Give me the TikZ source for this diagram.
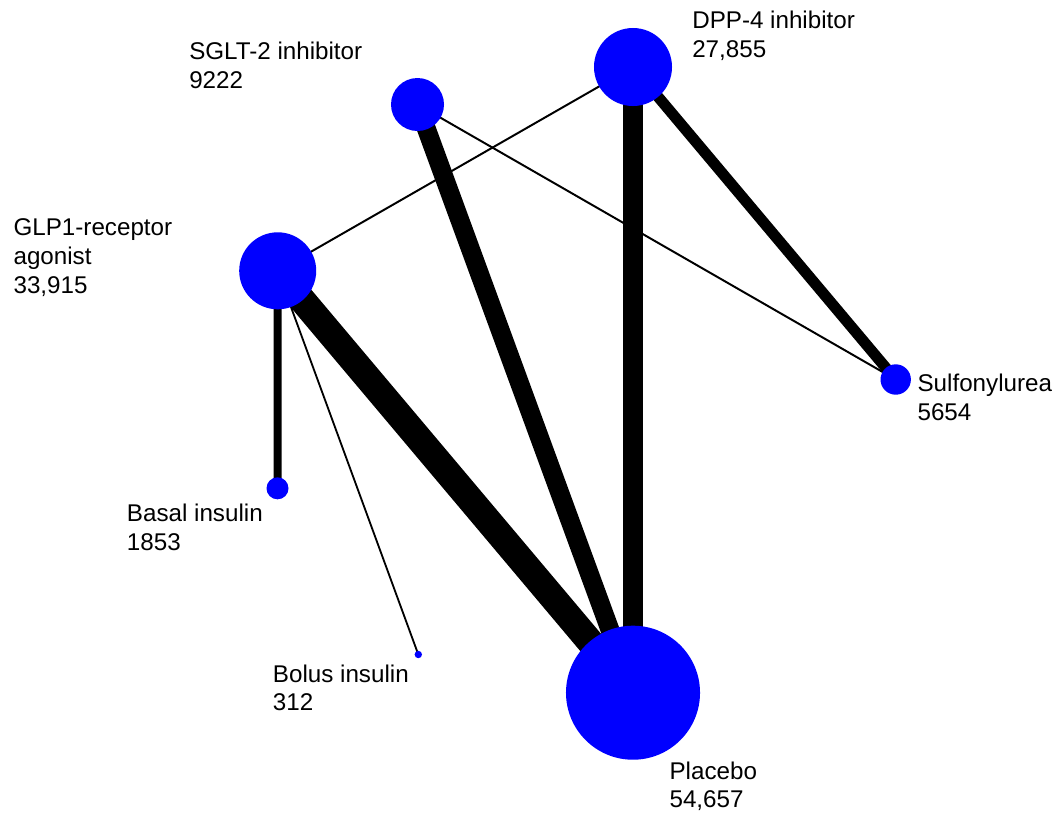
\documentclass[tikz,border=0pt]{standalone}
\usepackage{fontspec}
\setmainfont{Liberation Sans}
\usetikzlibrary{backgrounds}
\tikzset{
	trt/.style={circle, fill=blue, draw=none, inner sep=0pt, minimum size=#1},
	lab/.style={anchor=base west, align=left, inner sep=0pt,
			font=\fontsize{17.2}{20.4}\selectfont},
	link/.style={draw=black, line width=#1, line cap=butt}
}

\begin{document}
\begin{tikzpicture}[x=0.025cm, y=-0.025cm]
        \useasboundingbox (0, 0) rectangle (1057, 818);
        % treatments, area ~ number of patients
        \node[trt=1.95cm] (dpp) at (633, 67) {};
        \node[trt=1.325cm] (sglt) at (417.5, 104.5) {};
        \node[trt=1.925cm] (glp) at (277.7, 270.8) {};
        \node[trt=0.76cm] (sulf) at (895.7, 379.5) {};
        \node[trt=0.55cm] (basal) at (277.5, 488.3) {};
        \node[trt=0.185cm] (bolus) at (418.3, 654.5) {};
        \node[trt=3.35cm] (plac) at (633, 692.7) {};
        % labels sit on the baseline of their last line
        \node[lab] (dpp_lab) at (692, 57) {DPP-4 inhibitor\\27,855};
        \node[lab] (sglt_lab) at (189, 88.5) {SGLT-2 inhibitor\\9222};
        \node[lab] (glp_lab) at (13.3, 293.3) {GLP1-receptor\\agonist\\33,915};
        \node[lab] (sulf_lab) at (917.3, 420) {Sulfonylurea\\5654};
        \node[lab] (basal_lab) at (126.7, 550) {Basal insulin\\1853};
        \node[lab] (bolus_lab) at (272.7, 710.7) {Bolus insulin\\312};
        \node[lab] (plac_lab) at (669.3, 807.7) {Placebo\\54,657};
        % comparisons, width ~ number of trials
        \begin{scope}[on background layer]
            \draw[link=19.2pt] (glp.center) -- (plac.center);
            \draw[link=14.9pt] (dpp.center) -- (plac.center);
            \draw[link=13.4pt] (sglt.center) -- (plac.center);
            \draw[link=7.8pt] (dpp.center) -- (sulf.center);
            \draw[link=5.7pt] (glp.center) -- (basal.center);
            \draw[link=1.4pt] (dpp.center) -- (glp.center);
            \draw[link=1.4pt] (sglt.center) -- (sulf.center);
            \draw[link=1.3pt] (glp.center) -- (bolus.center);
        \end{scope}
    \end{tikzpicture}
\end{document}
